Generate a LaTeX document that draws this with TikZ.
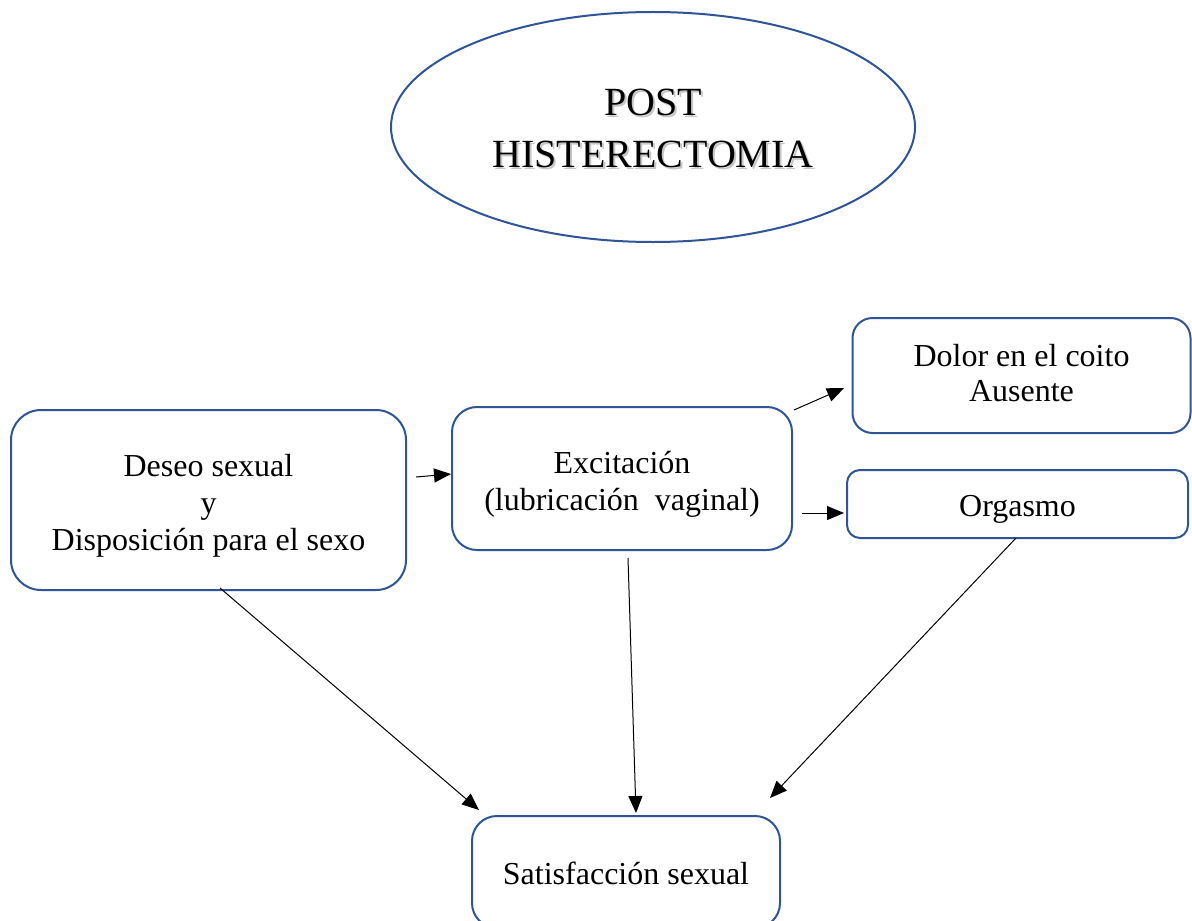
\documentclass[tikz,border=0pt]{standalone}
\usepackage{fontspec}
\setmainfont{Liberation Serif}
\usetikzlibrary{shapes.geometric,arrows.meta}
\definecolor{bblue}{RGB}{47,85,151}
\tikzset{
  box/.style={draw=bblue, line width=1pt, rectangle, inner sep=0pt},
  boxtext/.style={align=center, inner sep=0pt, font=\fontsize{16}{18.5}\selectfont},
  arr/.style={line width=0.5pt, -{Triangle[length=8.5pt,width=7pt]}}
}
\begin{document}
\begin{tikzpicture}[x=0.5pt,y=-0.5pt]
\useasboundingbox (0,0) rectangle (1192,920);
\clip (0,0) rectangle (1192,920);
\fill[white] (0,0) rectangle (1192,920);
% ellipse
\node[ellipse, draw=bblue, line width=1pt, minimum width=262pt, minimum height=115pt, inner sep=0pt] (post) at (653,127) {};
\node[text=black!22, align=center, font=\fontsize{20}{26}\selectfont] (postshadow) at (655,130) {POST\\HISTERECTOMIA};
\node[align=center, font=\fontsize{20}{26}\selectfont] (posttext) at (653,128) {POST\\HISTERECTOMIA};
% boxes
\node[box, rounded corners=15pt, minimum width=197.5pt, minimum height=90pt] (deseo) at (208.5,500) {};
\node[box, rounded corners=12.5pt, minimum width=170pt, minimum height=71.5pt] (excit) at (622,478.5) {};
\node[box, rounded corners=10pt, minimum width=169pt, minimum height=57.5pt] (dolor) at (1021.5,375.5) {};
\node[box, rounded corners=6.5pt, minimum width=170.5pt, minimum height=34pt] (orgasmo) at (1017.5,504) {};
\node[box, rounded corners=12.5pt, minimum width=154pt, minimum height=56pt] (satis) at (626,872) {};
% texts
\node[boxtext] (deseoT) at ([yshift=-3pt]deseo.center) {Deseo sexual\\y\\Disposición para el sexo};
\node[boxtext] (excitT) at ([yshift=-3pt]excit.center) {Excitación\\(lubricación\ \ vaginal)};
\node[boxtext, font=\fontsize{16}{17.5}\selectfont] (dolorT) at ([yshift=1pt]dolor.center) {Dolor en el coito\\Ausente};
\node[boxtext] (orgasmoT) at ([yshift=-2.5pt]orgasmo.center) {Orgasmo};
\node[boxtext] (satisT) at ([yshift=-0.5pt]satis.center) {Satisfacción sexual};
% arrow end points
\coordinate (a1s) at (416,477); \coordinate (a1e) at (451,474);
\coordinate (a2s) at (794,410); \coordinate (a2e) at (844,388);
\coordinate (a3s) at (802,513); \coordinate (a3e) at (844,513);
\coordinate (a4s) at (220,588); \coordinate (a4e) at (479,810);
\coordinate (a5s) at (628,558); \coordinate (a5e) at (636,813);
\coordinate (a6s) at (1016,538); \coordinate (a6e) at (770,798);
\draw[arr] (a1s) -- (a1e);
\draw[arr] (a2s) -- (a2e);
\draw[arr] (a3s) -- (a3e);
\draw[arr] (a4s) -- (a4e);
\draw[arr] (a5s) -- (a5e);
\draw[arr] (a6s) -- (a6e);
\end{tikzpicture}
\end{document}
